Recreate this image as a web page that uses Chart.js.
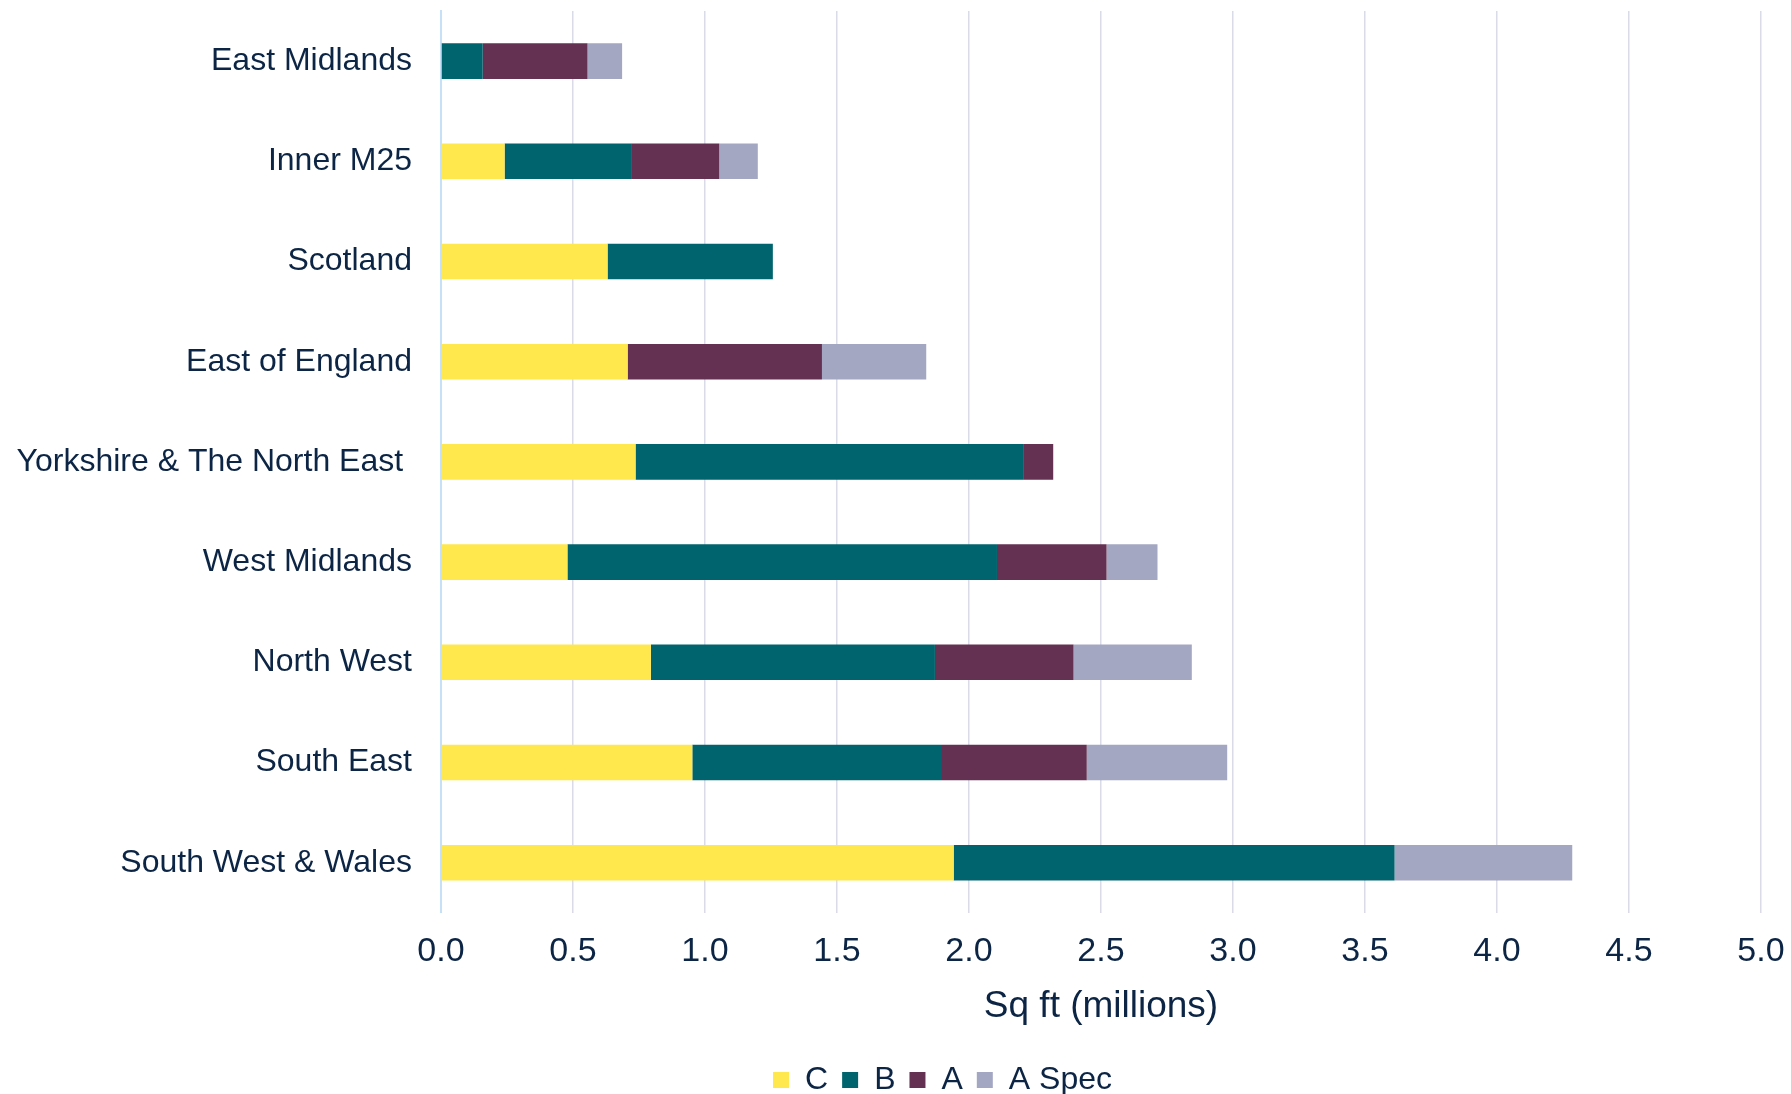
<!DOCTYPE html>
<html>
<head>
<meta charset="utf-8">
<script src="https://cdn.jsdelivr.net/npm/chart.js@4/dist/chart.umd.min.js"></script>
<style>
  html, body { margin: 0; background: #fff; }
</style>
</head>
<body>
<canvas id="grafica" width="1791" height="1094"></canvas>
<script>
const $grafica = document.querySelector("#grafica");
// Regiones, de arriba a abajo
const regiones = ["East Midlands", "Inner M25", "Scotland", "East of England", "Yorkshire & The North East ",
  "West Midlands", "North West", "South East", "South West & Wales"];
// Millones de pies cuadrados por grado
const valoresC     = [0,     0.241, 0.631, 0.707, 0.737, 0.479, 0.795, 0.952, 1.942];
const valoresB     = [0.158, 0.479, 0.626, 0,     1.468, 1.627, 1.076, 0.942, 1.670];
const valoresA     = [0.397, 0.334, 0,     0.736, 0.114, 0.415, 0.525, 0.552, 0];
const valoresASpec = [0.131, 0.146, 0,     0.395, 0,     0.193, 0.448, 0.532, 0.673];
const ticksX = [0, 0.5, 1, 1.5, 2, 2.5, 3, 3.5, 4, 4.5, 5];

const colorTexto = '#0c2545';
const fuente = '"Liberation Sans", Arial, sans-serif';

// Corre la leyenda a su sitio, como en el original
const moverLeyenda = {
  id: 'moverLeyenda',
  afterLayout(chart) {
    const l = chart.legend;
    l.left += 62; l.right += 62;
    l.top += 21; l.bottom += 21;
  }
};

new Chart($grafica, {
  type: 'bar',
  data: {
    labels: regiones,
    datasets: [
      { label: 'C', data: valoresC, backgroundColor: '#ffe74e' },
      { label: 'B', data: valoresB, backgroundColor: '#00646e' },
      { label: 'A', data: valoresA, backgroundColor: '#653152' },
      { label: 'A Spec', data: valoresASpec, backgroundColor: '#a3a7c2' },
    ]
  },
  options: {
    indexAxis: 'y',
    responsive: false,
    animation: false,
    barPercentage: 0.355,
    categoryPercentage: 1,
    layout: { padding: { top: 11, right: 30, left: 0, bottom: 9 } },
    plugins: {
      tooltip: { enabled: false },
      legend: {
        position: 'bottom',
        labels: {
          boxWidth: 16, boxHeight: 16, padding: 14,
          color: colorTexto,
          font: { family: fuente, size: 32 }
        }
      }
    },
    scales: {
      x: {
        stacked: true, min: 0, max: 5,
        afterBuildTicks: s => { s.ticks = ticksX.map(v => ({ value: v })); },
        afterFit: s => { s.paddingLeft = 0; s.paddingRight = 0; },
        ticks: {
          callback: v => Number(v).toFixed(1),
          color: colorTexto, padding: 18,
          font: { family: fuente, size: 34 }
        },
        grid: { color: '#d9dbe6', lineWidth: 1.5, drawTicks: false },
        border: { display: false },
        title: {
          display: true, text: 'Sq ft (millions)', color: colorTexto,
          font: { family: fuente, size: 37 },
          padding: { top: -5, bottom: 0 }
        }
      },
      y: {
        stacked: true,
        afterFit: s => { s.width = 441; s.paddingTop = 0; s.paddingBottom = 0; },
        grid: { display: false, drawTicks: false },
        border: { color: '#c6e0f7', width: 2 },
        ticks: {
          color: colorTexto, padding: 29,
          font: { family: fuente, size: 32 }
        }
      }
    }
  },
  plugins: [moverLeyenda]
});
</script>
</body>
</html>
